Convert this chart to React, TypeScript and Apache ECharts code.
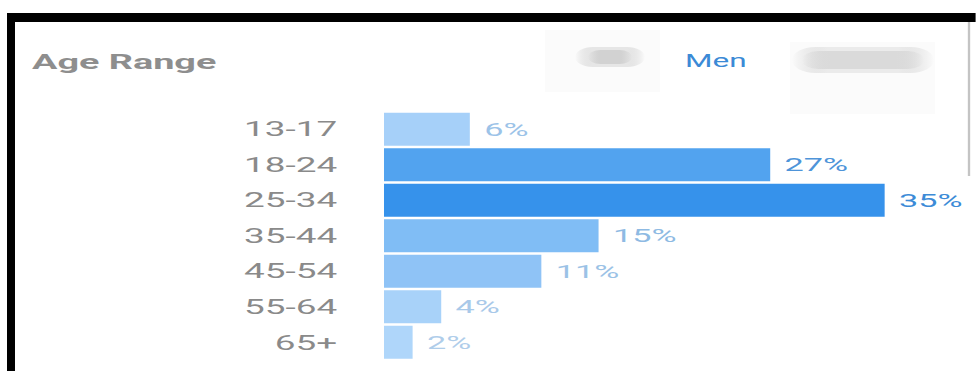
import React, { useEffect, useRef } from "react";
import * as echarts from "echarts";

const categories = ["13-17", "18-24", "25-34", "35-44", "45-54", "55-64", "65+"];
const values = [6, 27, 35, 15, 11, 4, 2];
const barColors = ["#a6d0f9", "#52a3ef", "#3692eb", "#80bdf5", "#8fc3f6", "#a8d2f9", "#afd6fa"];
const labelColors = ["#9cc3e8", "#4e94d9", "#3c8bd7", "#8ebae3", "#9bc2e6", "#a9c9e9", "#afcdea"];
const titleText = "Age Range";
const tabText = "Men";

const S = 1.8; // horizontal stretch of the screenshot
const W = 976 / S;
const H = 371;

export default function App() {
  const ref = useRef<HTMLDivElement>(null);
  useEffect(() => {
    if (!ref.current) return;
    const chart = echarts.init(ref.current, null, { renderer: "svg" });
    const gridLeft = 384 / S;
    const perPct = (885 - 384) / 35 / S;
    const xMax = 40;
    const gridRight = W - gridLeft - xMax * perPct;
    const blob = (x: number, y: number, w: number, h: number, c: string) => ({
      type: "rect",
      shape: { x: x / S, y, width: w / S, height: h, r: h / 2 },
      style: {
        fill: new echarts.graphic.LinearGradient(0, 0, 1, 0, [
          { offset: 0, color: "rgba(200,200,200,0)" },
          { offset: 0.25, color: c },
          { offset: 0.75, color: c },
          { offset: 1, color: "rgba(200,200,200,0)" },
        ]),
      },
      silent: true,
    });
    chart.setOption({
      animation: false,
      backgroundColor: "#ffffff",
      title: [
        {
          text: titleText,
          left: 32 / S,
          top: 51,
          padding: 0,
          textStyle: { fontFamily: "Roboto", fontWeight: "bold", fontSize: 21, color: "#8e8e8e" },
        },
        {
          text: tabText,
          left: 685 / S,
          top: 52,
          padding: 0,
          textStyle: { fontFamily: "Roboto", fontWeight: "normal", fontSize: 17.5, color: "#3b8ad6" },
        },
      ],
      graphic: [
        { type: "rect", shape: { x: 545 / S, y: 30, width: 115 / S, height: 62 }, style: { fill: "#fbfbfb" }, silent: true },
        { type: "rect", shape: { x: 790 / S, y: 42, width: 145 / S, height: 72 }, style: { fill: "#fbfbfb" }, silent: true },
        blob(575, 47, 70, 20, "#e6e6e6"),
        blob(588, 50, 44, 14, "#d2d2d2"),
        blob(792, 47, 142, 26, "#ebebeb"),
        blob(802, 51, 122, 18, "#dadada"),
        { type: "rect", shape: { x: 7 / S, y: 13, width: (976 - 7) / S, height: 9 }, style: { fill: "#000000" }, silent: true },
        { type: "rect", shape: { x: 7 / S, y: 13, width: 8 / S, height: H - 13 }, style: { fill: "#000000" }, silent: true },
        {
          type: "line",
          shape: { x1: 969 / S, y1: 22, x2: 969 / S, y2: 176 },
          style: { stroke: "#c4c4c4", lineWidth: 1.3 },
          silent: true,
        },
      ],
      grid: { left: gridLeft, right: gridRight, top: 111.45, bottom: 10.95, containLabel: false },
      xAxis: { type: "value", min: 0, max: xMax, show: false },
      yAxis: {
        type: "category",
        data: categories,
        inverse: true,
        axisLine: { show: false },
        axisTick: { show: false },
        splitLine: { show: false },
        axisLabel: { fontFamily: "Roboto", fontSize: 20.5, color: "#8a8a8a", margin: 26 },
      },
      series: [
        {
          type: "bar",
          barWidth: 33,
          data: values.map((v, i) => ({
            value: v,
            itemStyle: { color: barColors[i] },
            label: { color: labelColors[i] },
          })),
          label: {
            show: true,
            position: "right",
            distance: 8,
            fontFamily: "Roboto",
            fontSize: 19,
            formatter: "{c}%",
          },
        },
      ],
    });
    return () => chart.dispose();
  }, []);
  return (
    <div style={{ position: "fixed", left: 0, top: 0, width: 976, height: H, overflow: "hidden", background: "#fff" }}>
      <div
        ref={ref}
        style={{ width: W, height: H, transform: `scaleX(${S})`, transformOrigin: "0 0" }}
      />
    </div>
  );
}
